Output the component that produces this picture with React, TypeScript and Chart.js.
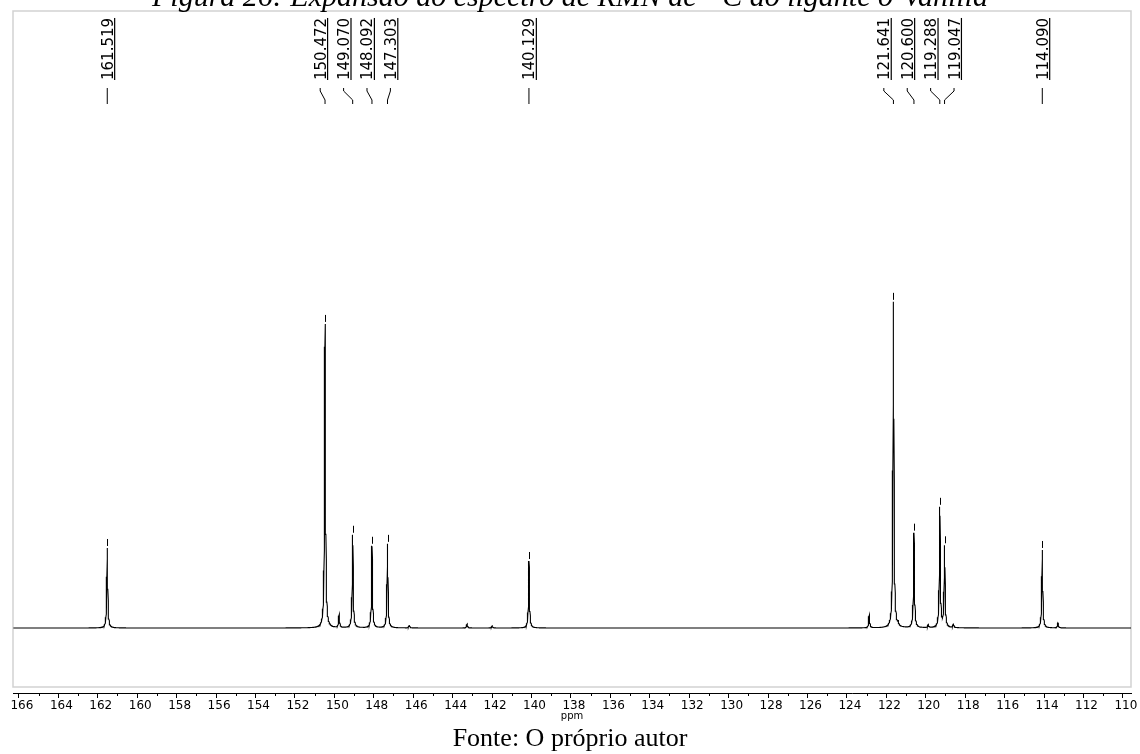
import React, { useEffect, useRef } from "react";
import { Chart, registerables } from "chart.js";

Chart.register(...registerables);

// ---- data ----
const peakShifts = [
  161.519, 150.472, 149.76, 149.07, 148.092, 147.303, 146.2, 143.27, 142.0, 140.129,
  122.87, 121.641, 121.4, 120.6, 119.88, 119.288, 119.047, 118.6, 114.09, 113.3,
];
const peakHeights = [
  80, 304, 13, 93, 82, 84, 3, 4, 2, 67,
  13, 326, 3, 95, 3, 120, 81, 4, 78, 5,
];
const labeledPeaks = [
  "161.519", "150.472", "149.070", "148.092", "147.303", "140.129",
  "121.641", "120.600", "119.288", "119.047", "114.090",
];
const xTickValues = [
  166, 164, 162, 160, 158, 156, 154, 152, 150, 148, 146, 144, 142, 140, 138,
  136, 134, 132, 130, 128, 126, 124, 122, 120, 118, 116, 114, 112, 110,
];
const axisMin = 109.59;
const axisMax = 166.3;
const yMin = -65;
const yMax = 617;
const titleText = "Figura 26: Expansão do espectro de RMN de ¹³C do ligante o-Vanilla";
const sourceText = "Fonte: O próprio autor";

const lineHalfWidth = 0.028; // ppm, lorentzian line shape

function spectrumAt(x: number): number {
  let s = 0;
  const g2 = lineHalfWidth * lineHalfWidth;
  for (let i = 0; i < peakShifts.length; i++) {
    const d = x - peakShifts[i];
    s += (peakHeights[i] * g2) / (d * d + g2);
  }
  return s;
}

function buildSpectrum() {
  const xs: number[] = [];
  for (let v = axisMin; v <= axisMax + 1e-9; v += 0.01) xs.push(Math.round(v * 1000) / 1000);
  peakShifts.forEach((p) => xs.push(p));
  xs.sort((a, b) => a - b);
  return xs.map((x) => ({ x, y: spectrumAt(x) }));
}

function spreadLabels(pxs: number[], gap: number, groupShift: number): number[] {
  type G = { members: number[] };
  let groups: G[] = pxs.map((p) => ({ members: [p] }));
  const center = (g: G) => g.members.reduce((a, b) => a + b, 0) / g.members.length;
  const left = (g: G) => center(g) - ((g.members.length - 1) / 2) * gap;
  const right = (g: G) => center(g) + ((g.members.length - 1) / 2) * gap;
  let changed = true;
  while (changed) {
    changed = false;
    for (let i = 0; i < groups.length - 1; i++) {
      if (left(groups[i + 1]) - right(groups[i]) < gap) {
        groups[i] = { members: groups[i].members.concat(groups[i + 1].members) };
        groups.splice(i + 1, 1);
        changed = true;
        break;
      }
    }
  }
  const out: number[] = [];
  groups.forEach((g) => {
    const l = left(g) + (g.members.length > 1 ? groupShift : 0);
    g.members.forEach((_, i) => out.push(l + i * gap));
  });
  return out;
}

const framePlugin = {
  id: "frame",
  beforeDatasetsDraw(chart: any) {
    const { ctx, chartArea } = chart;
    ctx.save();
    ctx.strokeStyle = "#d2d2d2";
    ctx.lineWidth = 1.5;
    ctx.strokeRect(chartArea.left, chartArea.top, chartArea.right - chartArea.left, chartArea.bottom - 6 - chartArea.top);
    ctx.restore();
  },
};

const minorTickPlugin = {
  id: "minorTicks",
  afterDraw(chart: any) {
    const { ctx } = chart;
    const xs = chart.scales.x;
    ctx.save();
    ctx.strokeStyle = "#000";
    ctx.lineWidth = 1;
    for (let v = Math.ceil(axisMin); v <= axisMax; v++) {
      if (v % 2 === 0) continue;
      const px = Math.round(xs.getPixelForValue(v)) + 0.5;
      ctx.beginPath();
      ctx.moveTo(px, xs.top);
      ctx.lineTo(px, xs.top + 3);
      ctx.stroke();
    }
    ctx.restore();
  },
};

const peakLabelPlugin = {
  id: "peakLabels",
  afterDatasetsDraw(chart: any) {
    const { ctx } = chart;
    const xs = chart.scales.x;
    const ys = chart.scales.y;
    const items = labeledPeaks
      .map((t) => ({ text: t, ppm: parseFloat(t), px: xs.getPixelForValue(parseFloat(t)) }))
      .sort((a, b) => a.px - b.px);
    const lxs = spreadLabels(items.map((i) => i.px), 23.4, -4);
    ctx.save();
    ctx.fillStyle = "#000";
    ctx.strokeStyle = "#000";
    ctx.lineWidth = 1;
    ctx.font = '15px "DejaVu Sans"';
    const labelBottom = 80;
    items.forEach((it, i) => {
      const lx = lxs[i];
      const w = ctx.measureText(it.text).width;
      ctx.save();
      ctx.translate(lx, labelBottom);
      ctx.rotate(-Math.PI / 2);
      ctx.textAlign = "left";
      ctx.textBaseline = "alphabetic";
      ctx.fillText(it.text, 0, 5.5);
      ctx.fillRect(0, 6.8, w, 1.2);
      ctx.restore();
      // connector
      ctx.beginPath();
      ctx.moveTo(lx, 88);
      ctx.lineTo(lx, 91);
      ctx.lineTo(it.px, 100);
      ctx.lineTo(it.px, 104);
      ctx.stroke();
      // peak top marker
      const top = ys.getPixelForValue(spectrumAt(it.ppm));
      const mx = Math.round(it.px) + 0.5;
      ctx.beginPath();
      ctx.moveTo(mx, top - 2);
      ctx.lineTo(mx, top - 9);
      ctx.stroke();
    });
    ctx.restore();
  },
};

export default function App() {
  const ref = useRef<HTMLCanvasElement | null>(null);

  useEffect(() => {
    if (!ref.current) return;
    const chart = new Chart(ref.current, {
      type: "line",
      data: {
        datasets: [
          {
            data: buildSpectrum(),
            borderColor: "#000",
            borderWidth: 1.1,
            pointRadius: 0,
            tension: 0,
            fill: false,
          },
        ],
      },
      options: {
        animation: false,
        responsive: false,
        devicePixelRatio: 1,
        parsing: false,
        normalized: true,
        events: [],
        layout: { padding: { left: 13, right: 9, top: 11, bottom: 0 } },
        plugins: { legend: { display: false }, tooltip: { enabled: false }, title: { display: false } },
        scales: {
          x: {
            type: "linear",
            reverse: true,
            min: axisMin,
            max: axisMax,
            afterFit(scale: any) {
              scale.height = 32;
            },
            afterBuildTicks(scale: any) {
              scale.ticks = xTickValues.map((v) => ({ value: v }));
            },
            border: { display: true, color: "#000", width: 1 },
            grid: { drawOnChartArea: false, drawTicks: true, tickLength: 5, color: "#000" },
            ticks: {
              autoSkip: false,
              maxRotation: 0,
              includeBounds: false,
              stepSize: 2,
              padding: 1,
              labelOffset: 3,
              color: "#000",
              font: { family: '"DejaVu Sans"', size: 12 },
              callback: (v: any) => String(v),
            },
            title: {
              display: true,
              text: "ppm",
              color: "#000",
              font: { family: '"DejaVu Sans"', size: 10 },
              padding: { top: 0, bottom: 3 },
            },
          },
          y: { display: false, min: yMin, max: yMax },
        },
      },
      plugins: [framePlugin, minorTickPlugin, peakLabelPlugin],
    } as any);
    return () => chart.destroy();
  }, []);

  return (
    <div style={{ position: "fixed", left: 0, top: 0, width: 1140, height: 754, background: "#fff", overflow: "hidden" }}>
      <canvas ref={ref} width={1140} height={725} style={{ position: "absolute", left: 0, top: 0, width: 1140, height: 725 }} />
      <div
        style={{
          position: "absolute",
          left: 0,
          top: -19,
          width: 1140,
          textAlign: "center",
          fontFamily: '"Liberation Serif", serif',
          fontStyle: "italic",
          fontSize: 30,
          lineHeight: "30px",
          whiteSpace: "nowrap",
          color: "#000",
        }}
      >
        {titleText}
      </div>
      <div
        style={{
          position: "absolute",
          left: 0,
          top: 725,
          width: 1140,
          textAlign: "center",
          fontFamily: '"Liberation Serif", serif',
          fontSize: 26,
          lineHeight: "26px",
          whiteSpace: "nowrap",
          color: "#000",
        }}
      >
        {sourceText}
      </div>
    </div>
  );
}
